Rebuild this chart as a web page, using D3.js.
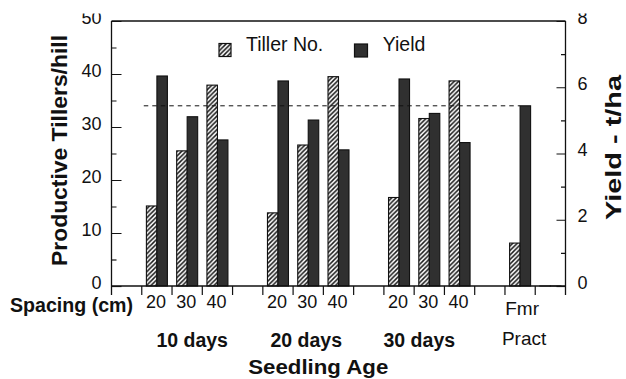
<!DOCTYPE html>
<html>
<head>
<meta charset="utf-8">
<script src="https://cdn.jsdelivr.net/npm/d3@7"></script>
<style>
  body { margin: 0; background: #fff; }
  svg { display: block; font-family: "Liberation Sans", Arial, sans-serif; }
</style>
</head>
<body>
<svg id="chart"></svg>
<script>
// slots along the x axis (empty ones separate the seedling age groups)
const slots = ["pad1", "10d-20", "10d-30", "10d-40", "pad2", "20d-20", "20d-30", "20d-40",
  "pad3", "30d-20", "30d-30", "30d-40", "pad4", "Fmr", "blank"];
const treatments = ["10d-20", "10d-30", "10d-40", "20d-20", "20d-30", "20d-40",
  "30d-20", "30d-30", "30d-40", "Fmr", "blank"];
const spacingLabels = ["20", "30", "40", "20", "30", "40", "20", "30", "40", "", ""];
const tillers = [15.1, 25.5, 37.9, 13.8, 26.6, 39.5, 16.7, 31.6, 38.7, 8.1, 0];
const yieldTha = [6.34, 5.11, 4.41, 6.19, 5.01, 4.11, 6.25, 5.21, 4.33, 5.44, 0];
const ageGroups = ["10 days", "20 days", "30 days"];
const ageMiddle = ["10d-30", "20d-30", "30d-30"];
const farmerPractice = 5.44;
const tillerTicks = [0, 10, 20, 30, 40, 50];
const tillerMinor = [5, 15, 25, 35, 45];
const yieldTicks = [0, 2, 4, 6, 8];
const yieldMinor = [1, 3, 5, 7];

const W = 626, H = 379;
const mLeft = 111.5, mRight = 565.5, mTop = 21, mBottom = 286;

const svg = d3.select("#chart").attr("width", W).attr("height", H);

// the original scan is cropped just above the top tick labels
const defs = svg.append("defs");
defs.append("clipPath").attr("id", "crop")
  .append("rect").attr("x", 0).attr("y", 13.5).attr("width", W).attr("height", H);

const pat = defs.append("pattern")
  .attr("id", "hatch")
  .attr("patternUnits", "userSpaceOnUse")
  .attr("width", 4.5).attr("height", 4.5);
pat.append("rect").attr("width", 4.5).attr("height", 4.5).attr("fill", "#fff");
pat.append("path")
  .attr("d", "M0,4.5 L4.5,0 M-1,1 L1,-1 M3.5,5.5 L5.5,3.5")
  .attr("stroke", "#1a1a1a").attr("stroke-width", 1.5);

const g = svg.append("g").attr("clip-path", "url(#crop)");

const x = d3.scaleBand().domain(slots).range([mLeft, mRight]).padding(0);
const bw = x.bandwidth();
const barW = 10.5;
const off = (bw - 2 * barW) / 2;

const yT = d3.scaleLinear().domain([0, 50]).range([mBottom, mTop]);
const yY = d3.scaleLinear().domain([0, 8]).range([mBottom, mTop]);

// bars
const rows = treatments.map((t, i) => ({ t, till: tillers[i], yld: yieldTha[i], sp: spacingLabels[i] }));

g.selectAll(".till").data(rows).enter().append("rect")
  .attr("class", "till")
  .attr("x", d => x(d.t) + off)
  .attr("y", d => yT(d.till))
  .attr("width", barW)
  .attr("height", d => Math.max(0.01, mBottom - yT(d.till)))
  .attr("fill", "url(#hatch)")
  .attr("stroke", "#111").attr("stroke-width", 1.1);

g.selectAll(".yld").data(rows).enter().append("rect")
  .attr("class", "yld")
  .attr("x", d => x(d.t) + off + barW)
  .attr("y", d => yY(d.yld))
  .attr("width", barW)
  .attr("height", d => Math.max(0.01, mBottom - yY(d.yld)))
  .attr("fill", "#303030")
  .attr("stroke", "#111").attr("stroke-width", 1.1);

// farmer practice reference line
g.append("line")
  .attr("x1", x("10d-20") + 2)
  .attr("x2", x("Fmr") + off + barW)
  .attr("y1", yY(farmerPractice)).attr("y2", yY(farmerPractice))
  .attr("stroke", "#111").attr("stroke-width", 1)
  .attr("stroke-dasharray", "4.5,4");

// frame
const frame = g.append("g").attr("stroke", "#111").attr("stroke-width", 1.3).attr("fill", "none");
frame.append("line").attr("x1", mLeft).attr("x2", mRight).attr("y1", mTop).attr("y2", mTop);
frame.append("line").attr("x1", mLeft).attr("x2", mRight).attr("y1", mBottom).attr("y2", mBottom);
frame.append("line").attr("x1", mLeft).attr("x2", mLeft).attr("y1", mTop).attr("y2", mBottom + 9);
frame.append("line").attr("x1", mRight).attr("x2", mRight).attr("y1", mTop).attr("y2", mBottom + 9);

// x ticks at slot boundaries, pointing down
g.append("g").selectAll("line").data(slots.slice(1)).enter().append("line")
  .attr("x1", d => x(d)).attr("x2", d => x(d))
  .attr("y1", mBottom).attr("y2", mBottom + 9)
  .attr("stroke", "#111").attr("stroke-width", 1.2);

// axes with ticks pointing into the plot
function styleAxis(sel) {
  sel.select(".domain").remove();
  sel.selectAll("line").attr("stroke", "#111").attr("stroke-width", 1.2);
  sel.selectAll("text").attr("font-size", 18).attr("fill", "#111")
    .attr("dy", "0.12em");
  sel.attr("font-family", null).attr("font-size", null);
}
g.append("g").attr("transform", `translate(${mLeft},0)`)
  .call(d3.axisLeft(yT).tickValues(tillerTicks).tickSizeInner(-10).tickPadding(10).tickSizeOuter(0))
  .call(styleAxis);
g.append("g").attr("transform", `translate(${mLeft},0)`)
  .call(d3.axisLeft(yT).tickValues(tillerMinor).tickSizeInner(-5).tickFormat("").tickSizeOuter(0))
  .call(styleAxis);

g.append("g").attr("transform", `translate(${mRight},0)`)
  .call(d3.axisRight(yY).tickValues(yieldTicks).tickSizeInner(-9).tickPadding(12).tickSizeOuter(0))
  .call(styleAxis);
g.append("g").attr("transform", `translate(${mRight},0)`)
  .call(d3.axisRight(yY).tickValues(yieldMinor).tickSizeInner(-4.5).tickFormat("").tickSizeOuter(0))
  .call(styleAxis);

// axis titles
g.append("text")
  .attr("transform", "translate(67,150.5) rotate(-90)")
  .attr("text-anchor", "middle").attr("font-size", 22).attr("font-weight", "bold")
  .attr("textLength", 231).attr("lengthAdjust", "spacingAndGlyphs")
  .attr("fill", "#111").text("Productive Tillers/hill");
g.append("text")
  .attr("transform", "translate(621,147.5) rotate(-90)")
  .attr("text-anchor", "middle").attr("font-size", 22).attr("font-weight", "bold")
  .attr("textLength", 145).attr("lengthAdjust", "spacingAndGlyphs")
  .attr("fill", "#111").text("Yield - t/ha");

// legend
g.append("rect").attr("x", 219).attr("y", 43.5).attr("width", 12).attr("height", 13)
  .attr("fill", "url(#hatch)").attr("stroke", "#111").attr("stroke-width", 1.2);
g.append("text").attr("x", 246).attr("y", 50.7).attr("font-size", 19.5).attr("fill", "#111")
  .text("Tiller No.");
g.append("rect").attr("x", 354.5).attr("y", 44).attr("width", 13).attr("height", 13)
  .attr("fill", "#303030").attr("stroke", "#111").attr("stroke-width", 1.2);
g.append("text").attr("x", 382.7).attr("y", 50.7).attr("font-size", 19.5).attr("fill", "#111")
  .text("Yield");

// x labels
g.append("text").attr("x", 10).attr("y", 312).attr("font-size", 20).attr("font-weight", "bold")
  .attr("textLength", 123).attr("lengthAdjust", "spacingAndGlyphs")
  .attr("fill", "#111").text("Spacing (cm)");

g.selectAll(".sp").data(rows.filter(d => d.sp !== "")).enter().append("text")
  .attr("class", "sp")
  .attr("x", d => x(d.t) + bw / 2 - 1)
  .attr("y", 308)
  .attr("text-anchor", "middle").attr("font-size", 18).attr("fill", "#111")
  .text(d => d.sp);

const ageNudge = [5, -2, -10];
g.selectAll(".age").data(ageGroups).enter().append("text")
  .attr("class", "age")
  .attr("x", (d, i) => x(ageMiddle[i]) + bw / 2 + ageNudge[i])
  .attr("y", 346.7)
  .attr("text-anchor", "middle").attr("font-size", 19.5).attr("font-weight", "bold")
  .attr("fill", "#111").text(d => d);

g.append("text").attr("x", x("Fmr") + bw / 2 + 2).attr("y", 315)
  .attr("text-anchor", "middle").attr("font-size", 19).attr("fill", "#111").text("Fmr");
g.append("text").attr("x", x("Fmr") + bw / 2 + 4).attr("y", 345)
  .attr("text-anchor", "middle").attr("font-size", 19).attr("fill", "#111").text("Pract");

g.append("text").attr("x", 318.3).attr("y", 373.5)
  .attr("text-anchor", "middle").attr("font-size", 21).attr("font-weight", "bold")
  .attr("textLength", 140).attr("lengthAdjust", "spacingAndGlyphs")
  .attr("fill", "#111").text("Seedling Age");
</script>
</body>
</html>
